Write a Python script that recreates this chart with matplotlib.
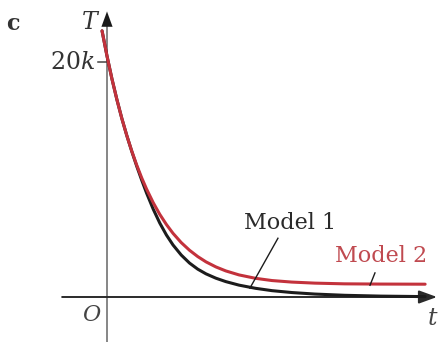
import matplotlib
matplotlib.use("Agg")
import matplotlib.pyplot as plt

# Temperature decay for two cooling models (T in thousands, t in arbitrary units)
t_values = [-0.15, 0.00, 0.15, 0.30, 0.45, 0.60, 0.75, 0.90, 1.05, 1.20,
            1.40, 1.60, 1.80, 2.00, 2.25, 2.50, 2.75, 3.00, 3.30, 3.60,
            4.00, 4.50, 5.00, 5.60, 6.30, 7.20, 8.30, 9.64]

T_model1 = [22.65, 20.51, 18.56, 16.80, 15.19, 13.74, 12.40, 11.14, 9.96, 8.84,
            7.48, 6.29, 5.28, 4.43, 3.57, 2.89, 2.37, 1.97, 1.60, 1.31,
            1.01, 0.74, 0.54, 0.38, 0.25, 0.145, 0.075, 0.033]

T_model2 = [22.65, 20.51, 18.56, 16.80, 15.19, 13.74, 12.42, 11.23, 10.15, 9.18,
            8.03, 7.03, 6.17, 5.42, 4.63, 3.98, 3.44, 2.99, 2.56, 2.22,
            1.88, 1.59, 1.40, 1.27, 1.18, 1.12, 1.10, 1.09]

y_tick_value = 20
y_tick_label = r"$20\mathit{k}$"

RED = "#c3323c"
DARK = "#1c1c1c"

plt.rcParams["mathtext.fontset"] = "dejavuserif"

fig = plt.figure(figsize=(4.38, 3.42), dpi=100)
ax = fig.add_axes([0, 0, 1, 1])
ax.set_xlim(-3.2424, 10.0303)
ax.set_ylim(-3.83, 25.277)
ax.axis("off")

head = dict(arrowstyle="-|>,head_length=0.55,head_width=0.2",
            shrinkA=0, shrinkB=0, mutation_scale=20)

# t axis
ax.annotate("", xy=(10.0, 0), xytext=(-1.36, 0),
            arrowprops=dict(color="#2a2a2a", lw=1.4, **head))
# T axis: grey shaft, black head
ax.plot([0, 0], [-3.83, 23.5], color="#666666", lw=1.1)
ax.annotate("", xy=(0, 24.3), xytext=(0, 22.5),
            arrowprops=dict(color="#1a1a1a", lw=0.01, **head))

# tick on T axis
ax.plot([-0.28, 0], [y_tick_value, y_tick_value], color="#444444", lw=1.1)
ax.text(-0.36, y_tick_value, y_tick_label, ha="right", va="center",
        fontsize=17, color="#333333")

# curves
ax.plot(t_values, T_model1, color=DARK, lw=2.2, solid_capstyle="round",
        solid_joinstyle="round", zorder=3)
ax.plot(t_values, T_model2, color=RED, lw=2.2, solid_capstyle="round",
        solid_joinstyle="round", zorder=4)

# labels
ax.text(-2.85, 23.2, "c", fontsize=16, fontweight="bold", family="DejaVu Serif",
        color="#333333", ha="center", va="center")
ax.text(-0.5, 23.4, r"$T$", fontsize=17, color="#333333", ha="center", va="center")
ax.text(-0.45, -1.5, r"$O$", fontsize=16, color="#444444", ha="center", va="center")
ax.text(9.88, -1.8, r"$t$", fontsize=17, color="#444444", ha="center", va="center")

ax.text(5.55, 6.3, "Model 1", fontsize=16, family="DejaVu Serif",
        color="#2a2a2a", ha="center", va="center")
ax.text(8.3, 3.5, "Model 2", fontsize=16, family="DejaVu Serif",
        color="#c04a50", ha="center", va="center")

# leader lines
ax.plot([5.18, 4.33], [5.0, 0.75], color=DARK, lw=1.0, zorder=5)
ax.plot([8.12, 7.97], [2.05, 1.0], color=DARK, lw=1.0, zorder=5)

fig.savefig("out.png", dpi=100)
